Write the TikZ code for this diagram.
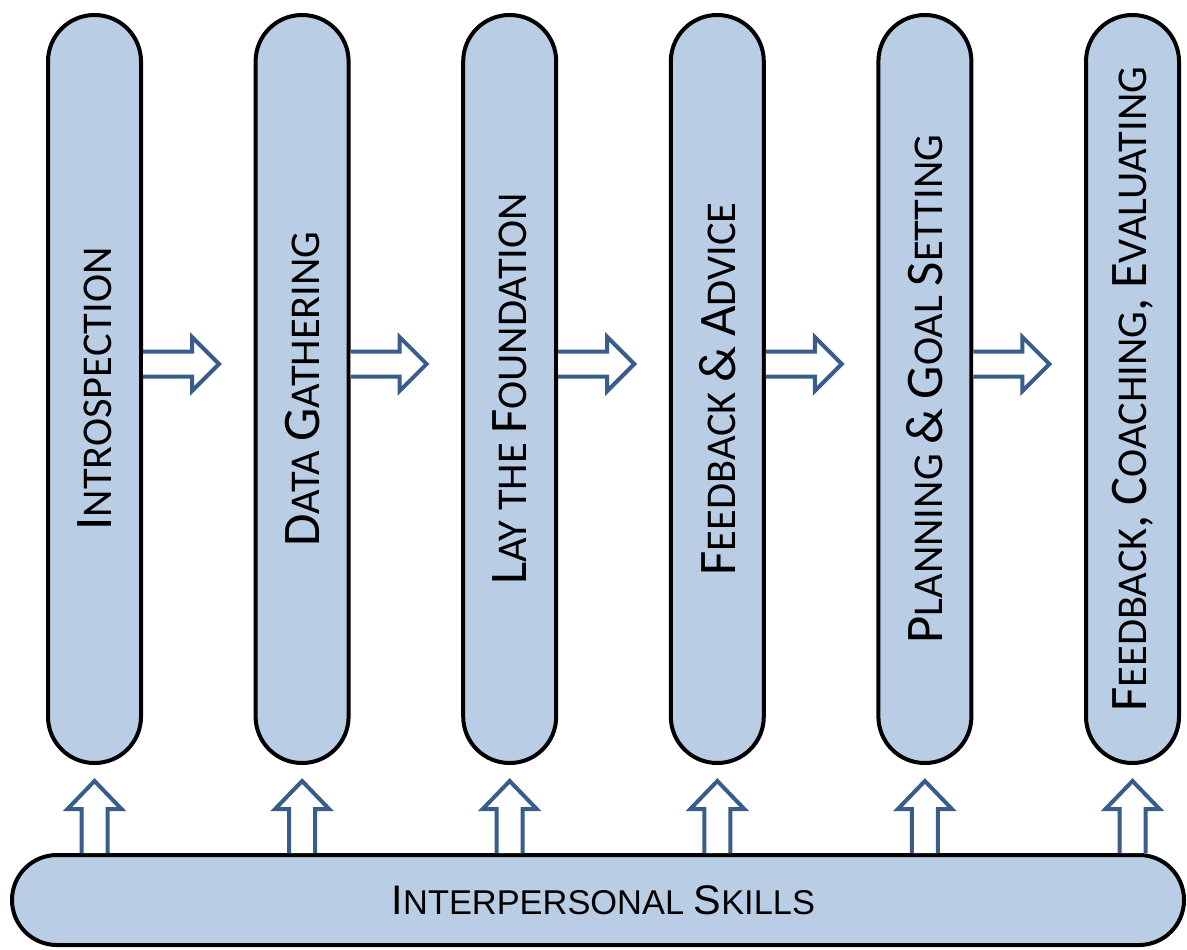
\documentclass[tikz,border=0pt]{standalone}
\usepackage{fontspec}
\newfontfamily\pillarfont{Carlito}
\newfontfamily\barfont{Liberation Sans}
\usetikzlibrary{calc}

\definecolor{pillarfill}{HTML}{B9CDE5}
\definecolor{arrowblue}{HTML}{385D8A}

% hand-made small capitals
\newcommand\pilbig[1]{{\fontsize{39.6pt}{41pt}\selectfont #1}}
\newcommand\pilsmall[1]{{\fontsize{31.8pt}{33pt}\selectfont #1}}
\newcommand\barbig[1]{{\fontsize{31pt}{33pt}\selectfont #1}}
\newcommand\barsmall[1]{{\fontsize{25.8pt}{27pt}\selectfont #1}}

% hollow block arrows (units: px, y downwards)
\newcommand\rightblock[1]{%
  \draw[hollow] (#1) ++(0,-12.5) -- ++(49,0) -- ++(0,-14.5) -- ++(27,27)
    -- ++(-27,27) -- ++(0,-14.5) -- ++(-49,0);}
\newcommand\upblock[1]{%
  \draw[hollow] (#1) ++(-13,0) -- ++(0,-44) -- ++(-14,0) -- ++(27,-28)
    -- ++(27,28) -- ++(-14,0) -- ++(0,44);}

\tikzset{
  pillar/.style={draw=black, line width=3pt, fill=pillarfill, rectangle,
    rounded corners=34.8pt, minimum width=561pt, minimum height=69.75pt,
    inner sep=0pt, rotate=90, font=\pillarfont},
  basebar/.style={draw=black, line width=3pt, fill=pillarfill, rectangle,
    rounded corners=33.7pt, minimum width=879pt, minimum height=67.5pt,
    inner sep=0pt, font=\barfont},
  hollow/.style={draw=arrowblue, line width=3pt, fill=white, miter limit=10},
}

\begin{document}
\begin{tikzpicture}[x=0.75pt,y=-0.75pt]
\useasboundingbox (0,0) rectangle (1187,949);

% stages
\node[pillar] (p1) at (94.5,389)  {\pilbig{I}\pilsmall{NTROSPECTION}};
\node[pillar] (p2) at (302.1,389) {\pilbig{D}\pilsmall{ATA }\pilbig{G}\pilsmall{ATHERING}};
\node[pillar] (p3) at (509.7,389) {\pilbig{L}\pilsmall{AY THE }\pilbig{F}\pilsmall{OUNDATION}};
\node[pillar] (p4) at (717.3,389) {\pilbig{F}\pilsmall{EEDBACK }\pilbig{\&}\pilsmall{ }\pilbig{A}\pilsmall{DVICE}};
\node[pillar] (p5) at (924.9,389) {\pilbig{P}\pilsmall{LANNING }\pilbig{\&}\pilsmall{ }\pilbig{G}\pilsmall{OAL }\pilbig{S}\pilsmall{ETTING}};
\node[pillar] (p6) at (1132.5,389) {\pilbig{F}\pilsmall{EEDBACK}\pilbig{,}\pilsmall{ }\pilbig{C}\pilsmall{OACHING}\pilbig{,}\pilsmall{ }\pilbig{E}\pilsmall{VALUATING}};

% foundation
\node[basebar] (skills) at (598,900) {\hspace{8pt}\barbig{I}\barsmall{NTERPERSONAL }\barbig{S}\barsmall{KILLS}};

% sequence arrows between stages
\foreach \i in {1,...,5} {
  \coordinate (r\i) at ($(p\i.south)+(0,-25)$);
  \rightblock{r\i}
}

% support arrows from the foundation
\foreach \i in {1,...,6} {
  \coordinate (u\i) at (p\i |- skills.north);
  \upblock{u\i}
}
\end{tikzpicture}
\end{document}
